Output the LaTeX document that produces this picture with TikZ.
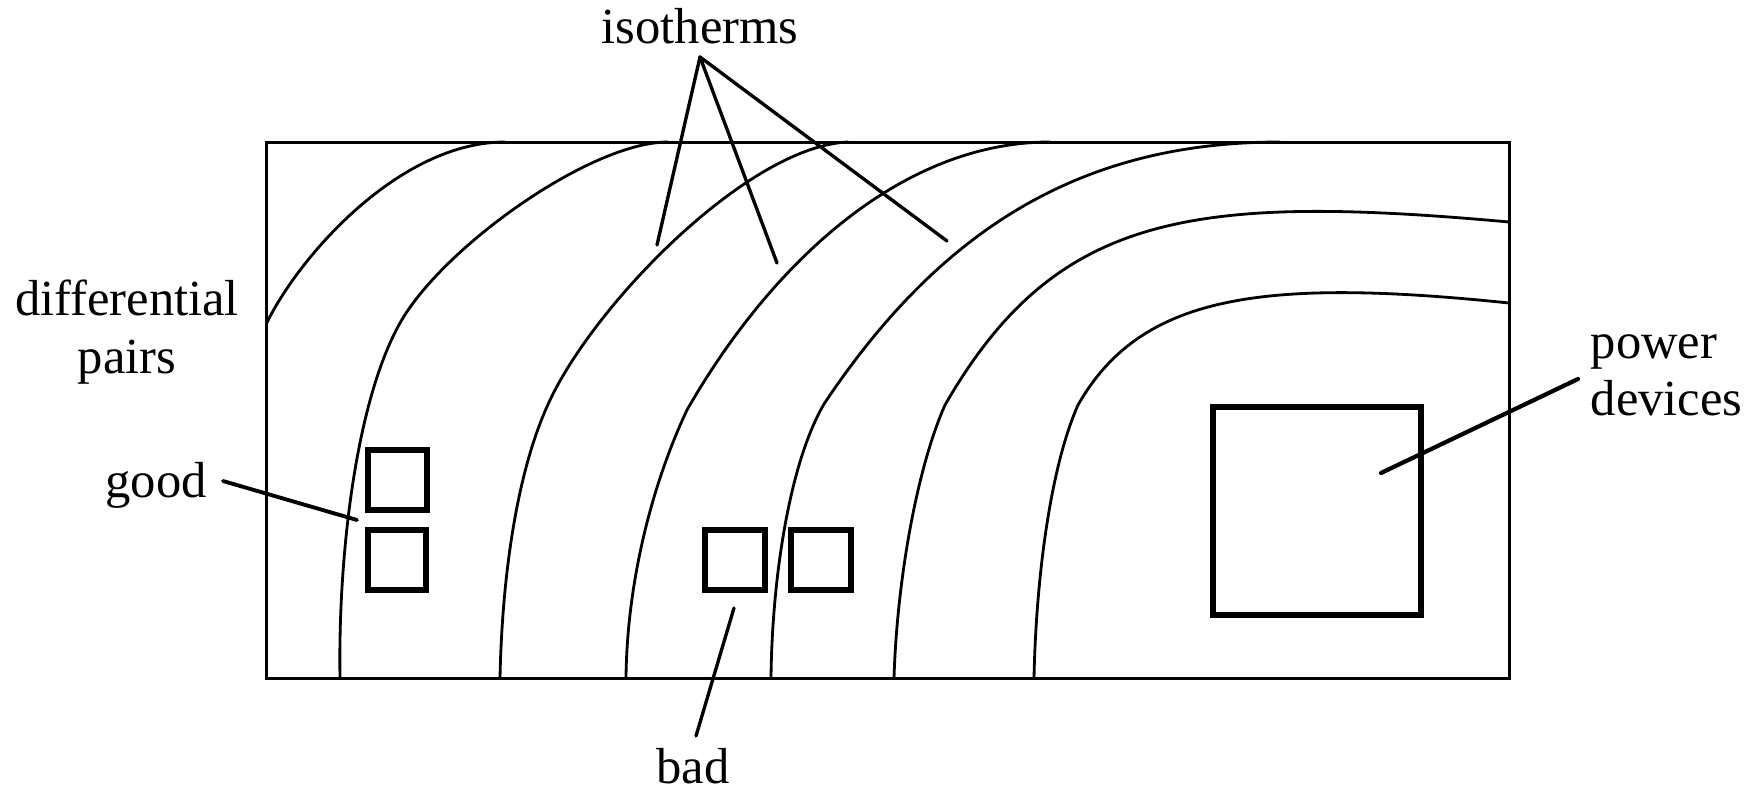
\documentclass[tikz,border=0pt]{standalone}
\usepackage{fontspec}
\setmainfont{Liberation Serif}
\begin{document}
\begin{tikzpicture}[x=0.1mm,y=-0.1mm,
  lbl/.style={font=\fontsize{14.4}{16}\selectfont, inner sep=0pt},
  iso/.style={line width=0.8pt, line join=round, line cap=round},
  frame/.style={draw, line width=0.85pt, inner sep=0pt},
  dev/.style={draw, line width=1.7pt, inner sep=0pt},
  ptr/.style={line width=0.95pt, line cap=round}]
\useasboundingbox (0,0) rectangle (1762,790);

% isotherms
\draw[iso] (266.7,323) .. controls (300,255) and (400,142) .. (505,142);
\draw[iso] (340,678) .. controls (338,560) and (355,403) .. (400,323)
                     .. controls (442,248) and (590,142) .. (668,142);
\draw[iso] (500,678) .. controls (502,580) and (516,470) .. (551,398)
                     .. controls (599,299) and (750,146) .. (848,142);
\draw[iso] (626,678) .. controls (627,580) and (653,482) .. (687,410)
                     .. controls (770,265) and (900,142) .. (1050,142);
\draw[iso] (771,678) .. controls (772,580) and (789,464) .. (824,404)
                     .. controls (940,230) and (1080,142) .. (1280,142);
\draw[iso] (894,678) .. controls (897,580) and (917,468) .. (945,405)
                     .. controls (1055,214) and (1189,193) .. (1509,222);
\draw[iso] (1034,678) .. controls (1036,580) and (1050,468) .. (1078,405)
                      .. controls (1140,296) and (1259,277) .. (1509,303);

% chip outline
\node[frame, minimum width=124.35mm, minimum height=53.6mm] (chip) at (887.75,410) {};

% devices
\node[dev, minimum width=5.9mm, minimum height=6mm] (g1) at (397.5,480) {};
\node[dev, minimum width=5.8mm, minimum height=6mm] (g2) at (397,560) {};
\node[dev, minimum width=6mm, minimum height=6mm] (b1) at (735,560) {};
\node[dev, minimum width=6mm, minimum height=6mm] (b2) at (821,560) {};
\node[dev, line width=1.5pt, minimum width=20.8mm, minimum height=20.8mm] (pw) at (1317,511) {};

% labels
\node[lbl, anchor=base] (isot) at (700,43) {isotherms};
\node[lbl, anchor=base] (diff1) at (127,315) {differential};
\node[lbl, anchor=base] (diff2) at (127,373) {pairs};
\node[lbl, anchor=base] (good) at (156,497) {good};
\node[lbl, anchor=base] (bad) at (693,783) {bad};
\node[lbl, anchor=base west] (pow1) at (1590,358) {power};
\node[lbl, anchor=base west] (pow2) at (1590,415) {devices};

% pointer end points
\coordinate (isop) at (700,57);
\coordinate (i1) at (657,245);
\coordinate (i2) at (777,263);
\coordinate (i3) at (947,241);
\coordinate (gA) at (223,481);
\coordinate (gB) at (357,520);
\coordinate (bA) at (734,608);
\coordinate (bB) at (696,736);
\coordinate (pA) at (1381,473);
\coordinate (pB) at (1578,379);

\draw[ptr] (isop) -- (i1);
\draw[ptr] (isop) -- (i2);
\draw[ptr] (isop) -- (i3);
\draw[ptr, line width=1.1pt] (gA) -- (gB);
\draw[ptr] (bA) -- (bB);
\draw[ptr, line width=1.2pt] (pA) -- (pB);
\end{tikzpicture}
\end{document}
